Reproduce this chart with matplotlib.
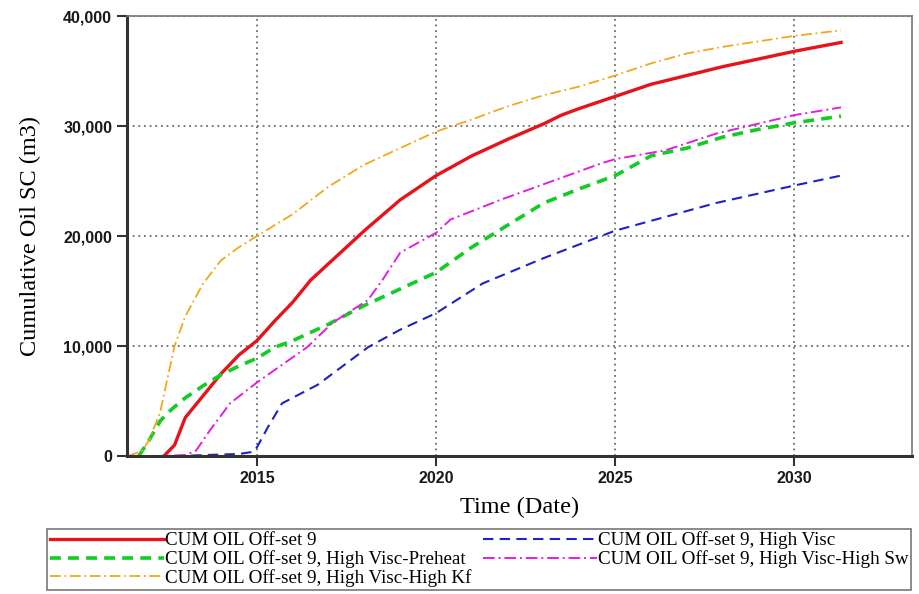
import numpy as np
import matplotlib
matplotlib.use('Agg')
import matplotlib.pyplot as plt

# values (year as decimal, cumulative oil in m3)
red_t = [2012.4, 2012.7, 2013.0, 2013.5, 2014.0, 2014.5, 2015.0, 2015.5, 2016.0, 2016.5, 2017.0,
         2018.0, 2019.0, 2020.0, 2021.0, 2022.0, 2023.0, 2023.5, 2024.0, 2025.0, 2026.0, 2027.0,
         2028.0, 2029.0, 2030.0, 2031.3]
red_v = [0, 1000, 3500, 5500, 7500, 9200, 10500, 12300, 14000, 16000, 17500,
         20500, 23300, 25500, 27300, 28800, 30200, 31000, 31600, 32700, 33800, 34600,
         35400, 36100, 36800, 37600]

blue_t = [2012.7, 2013.5, 2014.5, 2014.9, 2015.0, 2015.3, 2015.7, 2016.7, 2018.1, 2019.0, 2020.0,
          2021.3, 2023.0, 2025.0, 2027.8, 2030.0, 2031.3]
blue_v = [0, 100, 200, 400, 800, 2600, 4800, 6500, 9900, 11500, 13000,
          15700, 18000, 20500, 23000, 24600, 25500]

green_t = [2011.7, 2012.0, 2012.3, 2012.6, 2013.0, 2013.5, 2014.0, 2014.5, 2015.0, 2015.5, 2016.0,
           2017.0, 2018.0, 2019.0, 2020.0, 2021.0, 2022.0, 2023.0, 2024.0, 2025.0, 2026.0, 2027.0,
           2028.0, 2029.0, 2030.0, 2031.3]
green_v = [0, 1500, 3200, 4200, 5300, 6400, 7400, 8200, 8900, 9900, 10500,
           12000, 13700, 15200, 16700, 19000, 21000, 23000, 24300, 25500, 27300, 28000,
           29000, 29700, 30300, 30900]

pink_t = [2012.1, 2013.0, 2013.3, 2013.7, 2014.25, 2015.0, 2016.4, 2017.1, 2018.1, 2018.5, 2019.0,
          2020.0, 2020.4, 2021.8, 2024.6, 2025.0, 2026.4, 2027.8, 2030.0, 2031.3]
pink_v = [0, 100, 500, 2400, 4800, 6700, 9900, 12100, 14200, 16000, 18500,
          20300, 21500, 23300, 26600, 27000, 27800, 29300, 31000, 31700]

orange_t = [2011.4, 2011.8, 2012.0, 2012.3, 2012.5, 2012.7, 2013.0, 2013.5, 2014.0, 2014.5, 2015.0,
            2016.0, 2017.0, 2018.0, 2019.0, 2020.0, 2021.0, 2022.0, 2023.0, 2024.0, 2025.0, 2026.0,
            2027.0, 2028.0, 2029.0, 2030.0, 2031.3]
orange_v = [0, 500, 1500, 4000, 7000, 10000, 12700, 15700, 17800, 19000, 20000,
            22000, 24500, 26500, 28000, 29500, 30600, 31800, 32800, 33600, 34600, 35700,
            36600, 37200, 37700, 38200, 38700]

xticks = [2015, 2020, 2025, 2030]
yticks = [0, 10000, 20000, 30000, 40000]

fig = plt.figure(figsize=(9.19, 5.94), dpi=100)
ax = fig.add_axes([0.138, 0.232, 0.854, 0.741])

l1, = ax.plot(red_t, red_v, color='#e8121b', lw=2.4, label='CUM OIL Off-set 9')
l3, = ax.plot(green_t, green_v, color='#11cc22', lw=2.6, ls=(0, (3, 2)),
              label='CUM OIL Off-set 9, High Visc-Preheat')
l5, = ax.plot(orange_t, orange_v, color='#f2a81d', lw=1.3, ls=(0, (6, 2, 1, 2)),
              label='CUM OIL Off-set 9, High Visc-High Kf')
l2, = ax.plot(blue_t, blue_v, color='#1f22c8', lw=1.5, ls=(0, (5, 3)),
              label='CUM OIL Off-set 9, High Visc')
l4, = ax.plot(pink_t, pink_v, color='#e020e0', lw=1.4, ls=(0, (6, 2, 1, 2)),
              label='CUM OIL Off-set 9, High Visc-High Sw')

ax.set_xlim(2011.37, 2033.27)
ax.set_ylim(0, 40000)
ax.set_xticks(xticks)
ax.set_yticks(yticks)
ax.set_yticklabels(['{:,}'.format(v) for v in yticks])
ax.grid(True, color='#555555', ls=(0, (1.2, 2.5)), lw=1.1)

for lab in ax.get_xticklabels() + ax.get_yticklabels():
    lab.set_family('Liberation Sans')
    lab.set_fontsize(11.5)
    lab.set_fontweight('bold')
    lab.set_color('#1a1a1a')
ax.tick_params(direction='out', length=7, width=1.5, color='#333333')

for s in ['left', 'bottom']:
    ax.spines[s].set_linewidth(2.2)
    ax.spines[s].set_color('#333333')
for s in ['top', 'right']:
    ax.spines[s].set_linewidth(1.2)
    ax.spines[s].set_color('#777777')

ax.set_xlabel('Time (Date)', family='Liberation Serif', fontsize=17.5, labelpad=8)
ax.set_ylabel('Cumulative Oil SC (m3)', family='Liberation Serif', fontsize=17.5, labelpad=16)

leg = fig.legend(handles=[l1, l3, l5, l2, l4], ncol=2, loc='upper left',
                 bbox_to_anchor=(0.051, 0.11), prop={'family': 'Liberation Serif', 'size': 13.7},
                 handlelength=6.0, handletextpad=0.05, labelspacing=0.05, columnspacing=0.6,
                 borderpad=0.15, borderaxespad=0, fancybox=False, frameon=True)
leg.get_frame().set_edgecolor('#555555')
leg.get_frame().set_linewidth(1.2)

fig.savefig('out.png', dpi=100)
